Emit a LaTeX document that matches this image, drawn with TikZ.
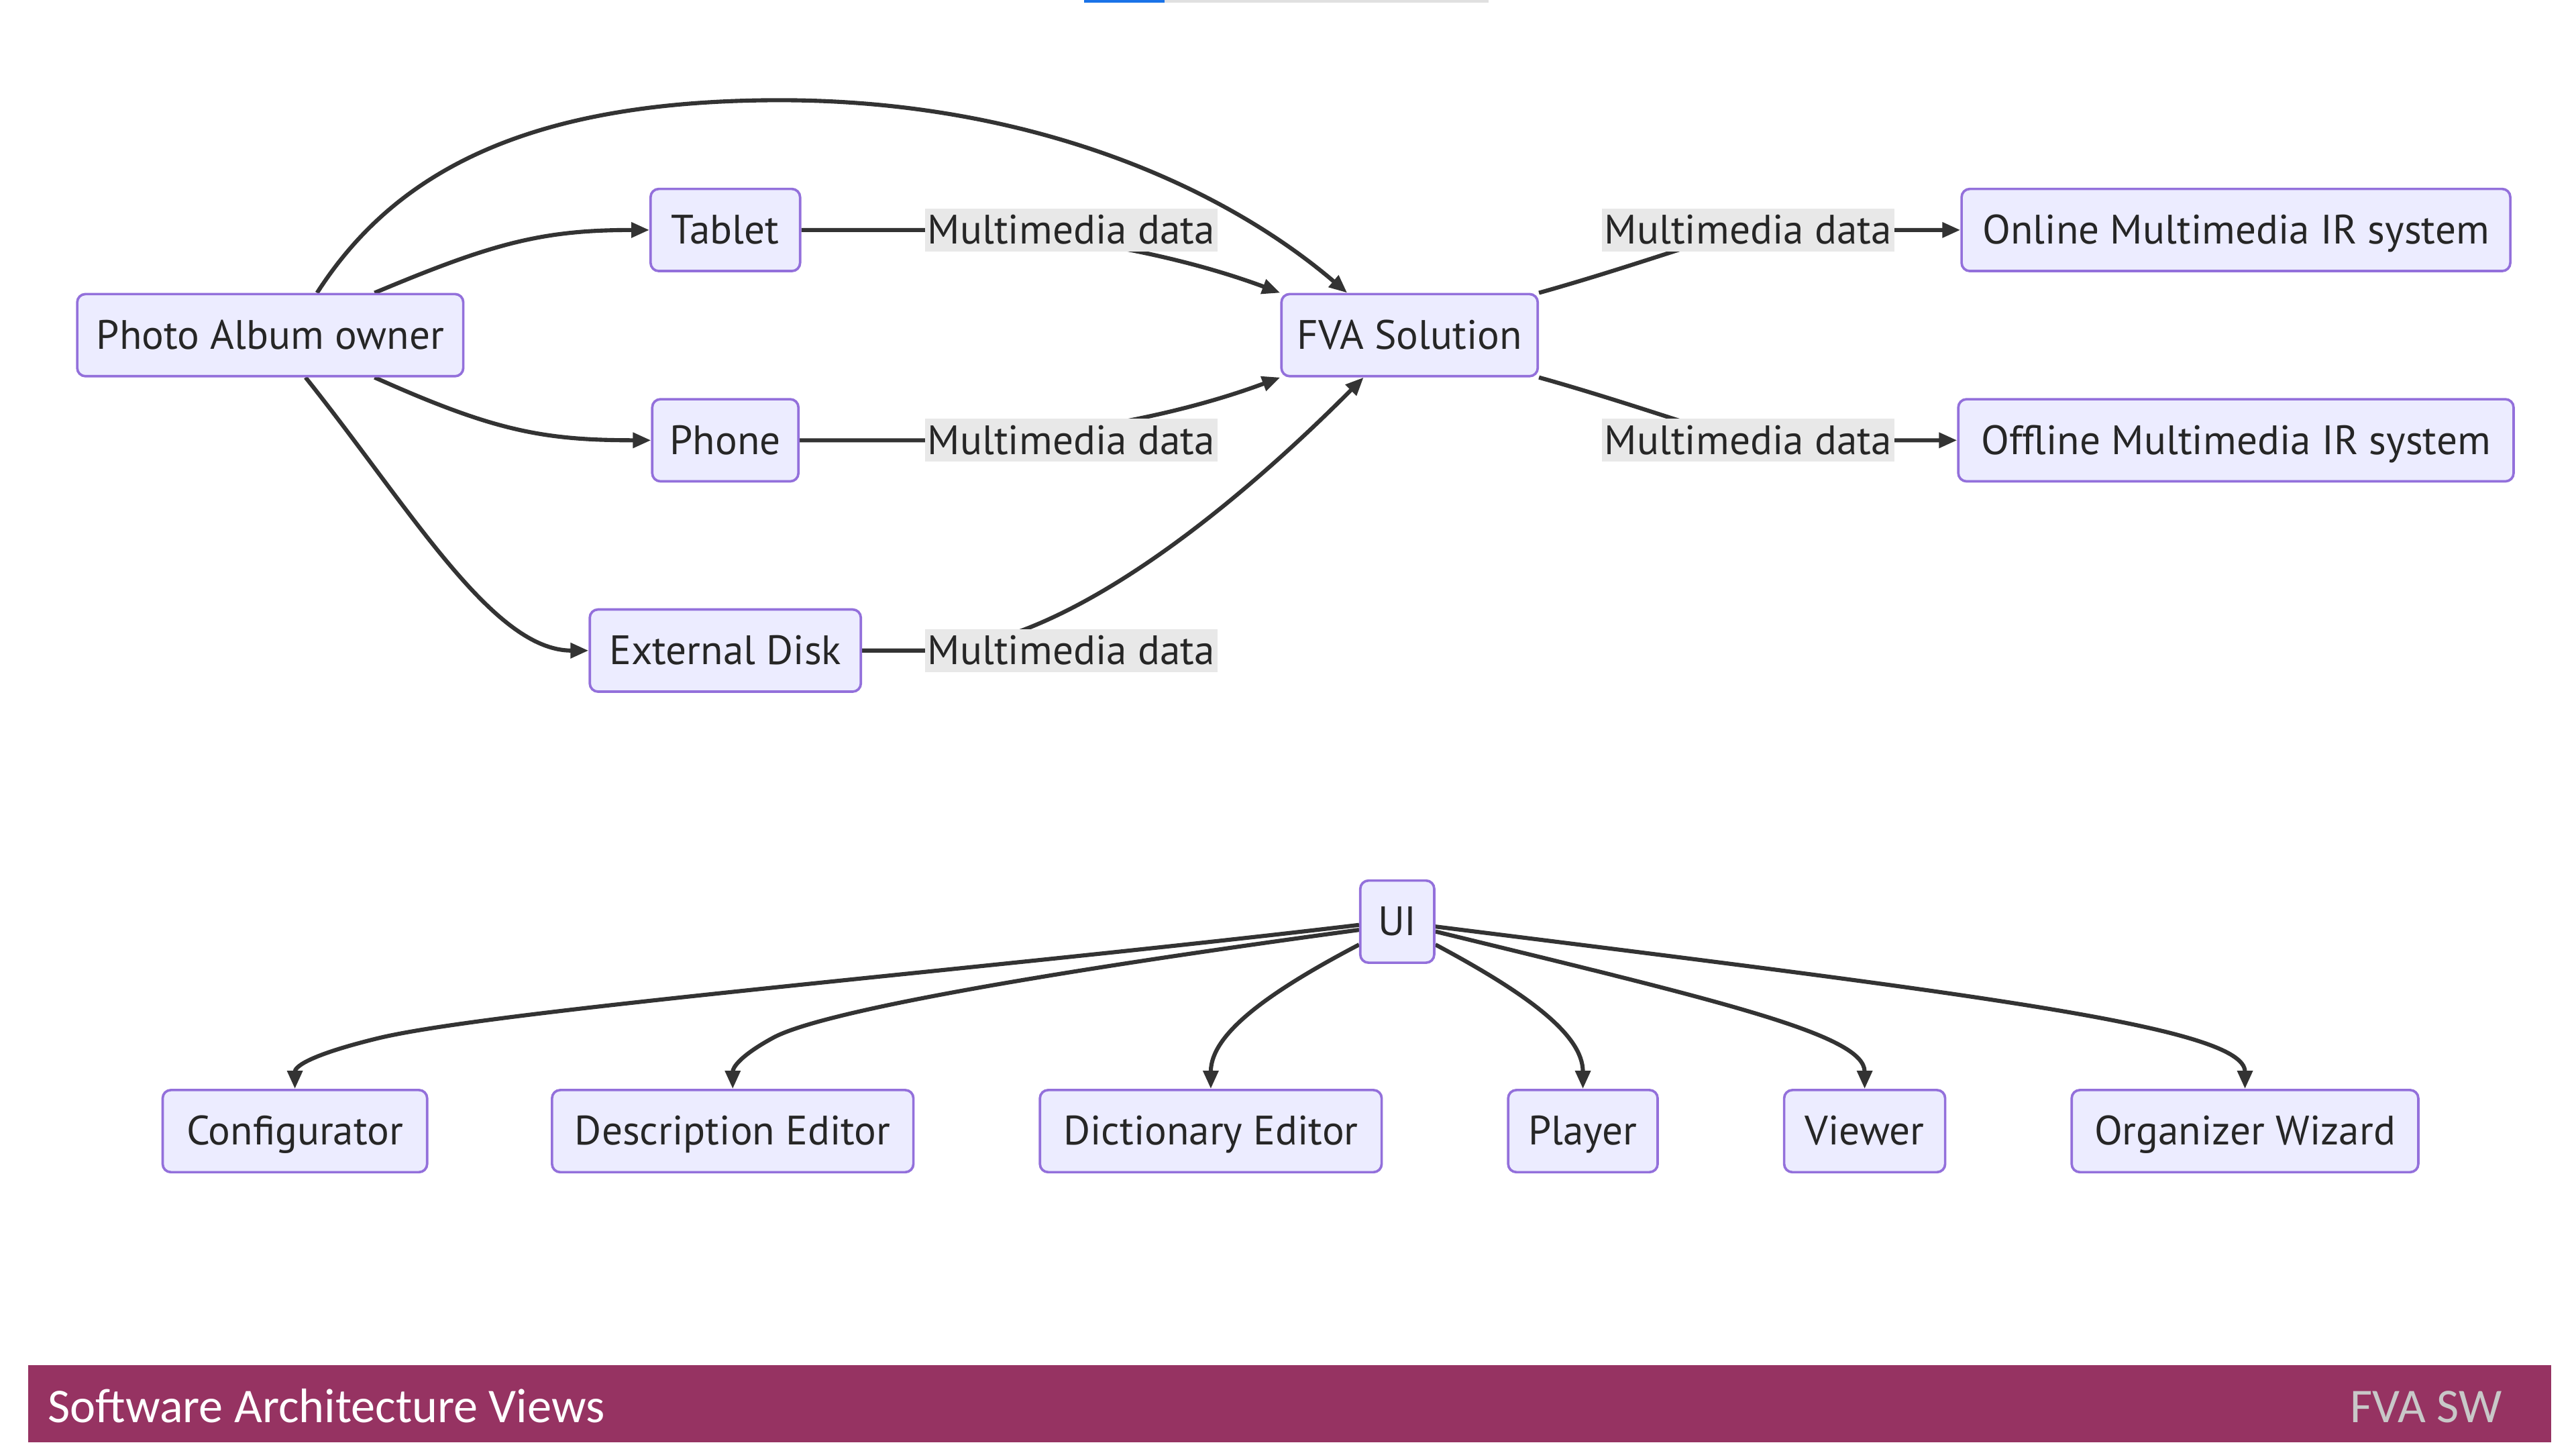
\documentclass[tikz,border=0pt]{standalone}
\usepackage{fontspec}
\setmainfont{PT Sans}
\newfontfamily\footfont{Carlito}
\usetikzlibrary{arrows.meta,calc,backgrounds}
\definecolor{nodefill}{HTML}{ECECFF}
\definecolor{nodeborder}{HTML}{9370DB}
\definecolor{edgecol}{HTML}{333333}
\definecolor{lblbg}{HTML}{E8E8E8}
\definecolor{footbar}{RGB}{150,51,98}
\definecolor{footgray}{RGB}{200,200,200}
\definecolor{topblue}{HTML}{1A73E8}
\begin{document}
\begin{tikzpicture}[x=1pt,y=-1pt,
 box/.style={draw=nodeborder,fill=nodefill,line width=1.5pt,rounded corners=5pt,minimum height=50pt,inner sep=0pt,text=black!85,text height=19pt,text depth=2pt,font=\fontsize{25}{30}\selectfont},
 lbl/.style={fill=lblbg,inner sep=0pt,minimum height=26pt,minimum width=178pt,text=black!85,text height=19pt,text depth=2pt,font=\fontsize{25}{30}\selectfont},
 conn/.style={draw=edgecol,line width=2.5pt,-{Triangle[length=11pt,width=9pt]}}]
\useasboundingbox (0,0) rectangle (1568,882);
% top artifact
\fill[topblue] (660,0) rectangle (709,1.5);
\fill[black!12] (709,0) rectangle (906,1.5);
% nodes
\node[box,minimum width=235pt] (owner) at (164.5,204) {Photo Album owner};
\node[box,minimum width=91pt] (tablet) at (441.5,140) {Tablet};
\node[box,minimum width=89pt] (phone) at (441.5,268) {Phone};
\node[box,minimum width=165pt] (disk) at (441.5,396) {External Disk};
\node[box,minimum width=156pt] (fva) at (858,204) {FVA Solution};
\node[box,minimum width=334pt] (online) at (1361,140) {Online Multimedia IR system};
\node[box,minimum width=338pt] (offline) at (1361,268) {Offline Multimedia IR system};
\node[lbl] (l1) at (652,140) {Multimedia data};
\node[lbl] (l2) at (652,268) {Multimedia data};
\node[lbl] (l3) at (652,396) {Multimedia data};
\node[lbl] (l4) at (1064,140) {Multimedia data};
\node[lbl] (l5) at (1064,268) {Multimedia data};
\node[box,minimum width=45pt] (ui) at (850.5,561) {UI};
\node[box,minimum width=161pt] (cfg) at (179.5,688.5) {Configurator};
\node[box,minimum width=220pt] (desc) at (446,688.5) {Description Editor};
\node[box,minimum width=208pt] (dict) at (737,688.5) {Dictionary Editor};
\node[box,minimum width=91pt] (player) at (963.5,688.5) {Player};
\node[box,minimum width=98pt] (viewer) at (1135,688.5) {Viewer};
\node[box,minimum width=211pt] (org) at (1366.5,688.5) {Organizer Wizard};
% edges
\begin{pgfonlayer}{background}
\fill[white] (0,0) rectangle (1568,882);
\draw[conn] ([xshift=28.5pt]owner.north) .. controls (240,105) and (320,62) .. (470,61) .. controls (620,60) and (740,110) .. ([xshift=-38pt]fva.north);
\draw[conn] ([xshift=63.5pt]owner.north) .. controls (300,148) and (330,140) .. (tablet.west);
\draw[conn] ([xshift=63.5pt]owner.south) .. controls (300,262) and (330,268) .. (phone.west);
\draw[conn] ([xshift=21.5pt]owner.south) .. controls (250,310) and (300,396) .. (disk.west);
\draw[conn] (tablet.east) -- (l1.west) .. controls (650,140) and (725,158) .. (fva.north west);
\draw[conn] (phone.east) -- (l2.west) .. controls (650,268) and (725,250) .. (fva.south west);
\draw[conn] (disk.east) -- (l3.west) .. controls (650,396) and (760,300) .. ([xshift=-28pt]fva.south);
\draw[conn] (fva.north east) .. controls (995,162) and (1055,140) .. (l4.center) -- (online.west);
\draw[conn] (fva.south east) .. controls (995,246) and (1055,268) .. (l5.center) -- (offline.west);
\draw[conn] ([yshift=-2pt]ui.west) .. controls (600,590) and (300,615) .. (230,632) .. controls (185,643) and (179.5,650) .. (cfg.north);
\draw[conn] ([yshift=-5pt]ui.west) .. controls (650,590) and (500,615) .. (470,632) .. controls (450,643) and (446,650) .. (desc.north);
\draw[conn] ([yshift=-14pt]ui.west) .. controls (770,605) and (737,630) .. (dict.north);
\draw[conn] ([yshift=-14pt]ui.east) .. controls (930,605) and (963.5,630) .. (player.north);
\draw[conn] ([yshift=-6pt]ui.east) .. controls (1050,610) and (1135,630) .. (viewer.north);
\draw[conn] ([yshift=-3pt]ui.east) .. controls (1200,605) and (1366.5,625) .. (org.north);
\end{pgfonlayer}
% footer
\fill[footbar] (17,831) rectangle (1553,878);
\node[anchor=base west,inner sep=0pt,text=white,font=\footfont\fontsize{29.5}{34}\selectfont] (ftl) at (29,866) {Software Architecture Views};
\node[anchor=base east,inner sep=0pt,text=footgray,font=\footfont\fontsize{29.5}{34}\selectfont] (ftr) at (1523,866) {FVA SW};
\end{tikzpicture}
\end{document}
